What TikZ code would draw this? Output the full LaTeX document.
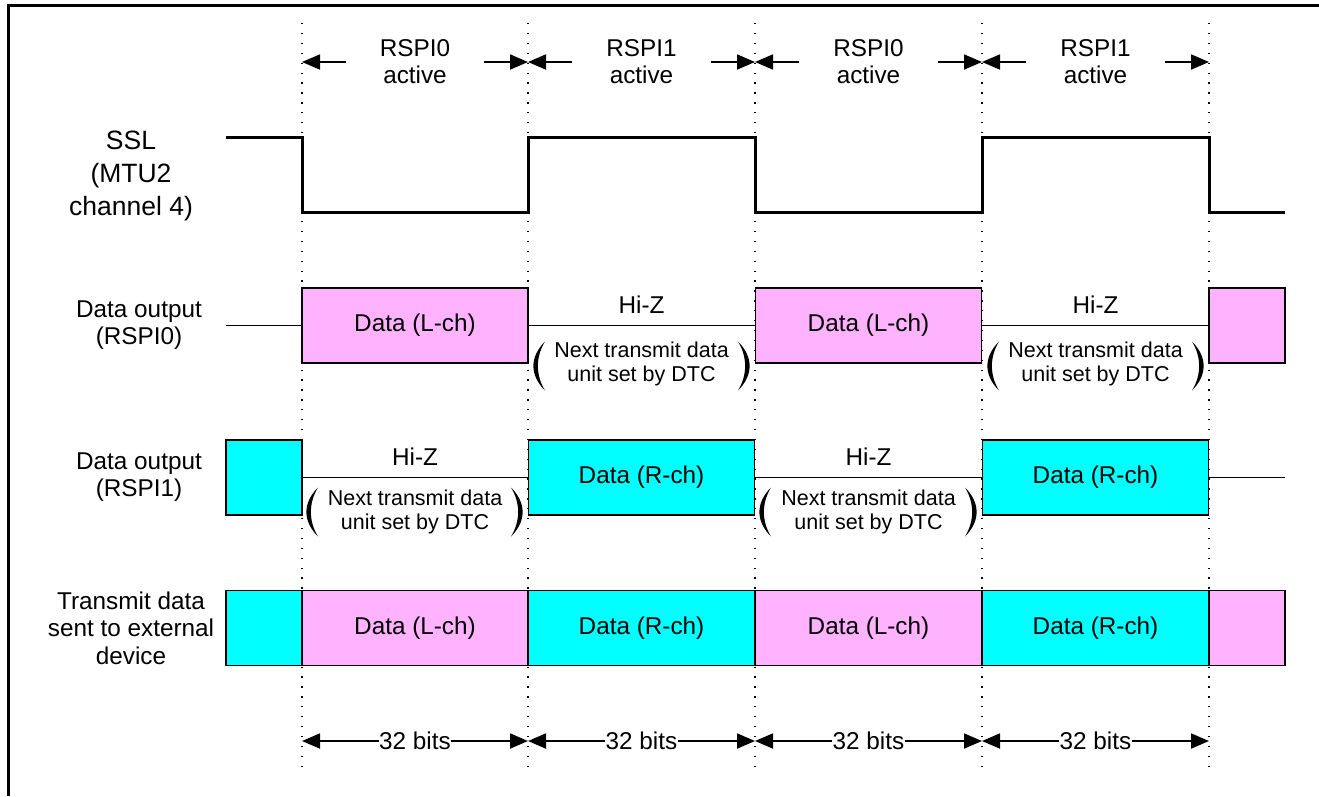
\documentclass[tikz,border=0pt]{standalone}
\usepackage{fontspec}
\setmainfont{Liberation Sans}
\usetikzlibrary{arrows.meta}
\definecolor{pinkd}{RGB}{255,179,255}
\definecolor{cyand}{RGB}{0,255,255}
\tikzset{
  frameline/.style={line width=3pt},
  gridline/.style={line width=1.3pt, dash pattern=on 1.3pt off 8.6pt},
  sig/.style={line width=3pt, line join=miter},
  databox/.style={draw, line width=1.8pt, minimum width=226pt, minimum height=75pt, inner sep=0pt,
    font=\fontsize{24.3}{28}\selectfont},
  boxL/.style={databox, fill=pinkd},
  boxR/.style={databox, fill=cyand},
  stub/.style={databox, minimum width=76pt},
  hiz/.style={line width=1.5pt},
  dimarrow/.style={line width=1.8pt, -{Triangle[length=18pt,width=15pt]}},
  dimboth/.style={line width=1.8pt, {Triangle[length=18pt,width=15pt]}-{Triangle[length=18pt,width=15pt]}},
  txt/.style={font=\fontsize{24.3}{27.5}\selectfont, align=center, inner sep=0pt},
  smalltxt/.style={font=\fontsize{21.5}{23.5}\selectfont, align=center, inner sep=0pt},
  lpar/.pic={\fill (6,-24.5) .. controls (-9.5,-9) and (-9.5,9) .. (6,24.5) .. controls (-3.5,9) and (-3.5,-9) .. (6,-24.5) -- cycle;},
  rpar/.pic={\fill (-6,-24.5) .. controls (9.5,-9) and (9.5,9) .. (-6,24.5) .. controls (3.5,9) and (3.5,-9) .. (-6,-24.5) -- cycle;}
}
\begin{document}
\begin{tikzpicture}[x=1pt,y=-1pt]
\useasboundingbox (0,0) rectangle (1319,796);
% frame
\coordinate (fTL) at (8,5);
\coordinate (fTR) at (1319,5);
\coordinate (fBL) at (8,796);
\draw[frameline] (fTR) -- (fTL) -- (fBL);

% dotted time lines
\foreach \i/\x in {1/302,2/528,3/755,4/982,5/1209}{
  \coordinate (t\i) at (\x,23);
  \coordinate (b\i) at (\x,774);
  \draw[gridline] (t\i) -- (b\i);
}

% top labels
\foreach \i/\xa/\xb/\lab in {1/302/528/RSPI0,2/528/755/RSPI1,3/755/982/RSPI0,4/982/1209/RSPI1}{
  \node[txt] (act\i) at ({(\xa+\xb)/2},61.5) {\lab\\active};
  \coordinate (al\i) at ({\xa+44},62);
  \coordinate (ar\i) at ({\xb-44},62);
  \coordinate (ae\i) at (\xa,62);
  \coordinate (af\i) at (\xb,62);
  \draw[dimarrow] (al\i) -- (ae\i);
  \draw[dimarrow] (ar\i) -- (af\i);
}

% row labels
\node[txt, font=\fontsize{26.5}{33}\selectfont] (lssl) at (131,176) {SSL\\(MTU2\\channel 4)};
\node[txt] (ld0) at (139,325) {Data output\\(RSPI0)};
\node[txt] (ld1) at (139,477) {Data output\\(RSPI1)};
\node[txt] (ltx) at (131,628) {Transmit data\\sent to external\\device};

% SSL waveform
\coordinate (s0) at (226,137);
\draw[sig] (s0) -- (302,137) -- (302,212) -- (528,212) -- (528,137) -- (755,137) -- (755,212)
  -- (982,212) -- (982,137) -- (1209,137) -- (1209,212) -- (1285,212);

% Data output RSPI0
\node[boxL] (d0a) at (415,325.5) {Data (L-ch)};
\node[boxL] (d0b) at (868.5,325.5) {Data (L-ch)};
\node[boxL, stub] (d0c) at (1247,325.5) {};
\coordinate (d0s) at (226,325.5);
\draw[hiz] (d0s) -- (d0a.west);
\draw[hiz] (d0a.east) -- (d0b.west);
\draw[hiz] (d0b.east) -- (d0c.west);
\node[txt] (hz0a) at (641.5,305) {Hi-Z};
\node[txt] (hz0b) at (1095.5,305) {Hi-Z};
\node[smalltxt] (nx0a) at (641.5,364) {Next transmit data\\unit set by DTC};
\node[smalltxt] (nx0b) at (1095.5,364) {Next transmit data\\unit set by DTC};
\pic at (539,366) {lpar};
\pic at (744,366) {rpar};
\pic at (993,366) {lpar};
\pic at (1198,366) {rpar};

% Data output RSPI1
\node[boxR, stub] (d1a) at (264,477.5) {};
\node[boxR] (d1b) at (641.5,477.5) {Data (R-ch)};
\node[boxR] (d1c) at (1095.5,477.5) {Data (R-ch)};
\coordinate (d1e) at (1285,477.5);
\draw[hiz] (d1a.east) -- (d1b.west);
\draw[hiz] (d1b.east) -- (d1c.west);
\draw[hiz] (d1c.east) -- (d1e);
\node[txt] (hz1a) at (415,457) {Hi-Z};
\node[txt] (hz1b) at (868.5,457) {Hi-Z};
\node[smalltxt] (nx1a) at (415,512) {Next transmit data\\unit set by DTC};
\node[smalltxt] (nx1b) at (868.5,512) {Next transmit data\\unit set by DTC};
\pic at (312,512) {lpar};
\pic at (517,512) {rpar};
\pic at (765,512) {lpar};
\pic at (971,512) {rpar};

% Transmit data
\node[boxR, stub] (tx0) at (264,628) {};
\node[boxL] (tx1) at (415,628) {Data (L-ch)};
\node[boxR] (tx2) at (641.5,628) {Data (R-ch)};
\node[boxL] (tx3) at (868.5,628) {Data (L-ch)};
\node[boxR] (tx4) at (1095.5,628) {Data (R-ch)};
\node[boxL, stub] (tx5) at (1247,628) {};

% 32 bits dimensions
\foreach \i/\xa/\xb in {1/302/528,2/528/755,3/755/982,4/982/1209}{
  \coordinate (dl\i) at (\xa,741);
  \coordinate (dr\i) at (\xb,741);
  \draw[dimboth] (dl\i) -- (dr\i);
  \node[txt, fill=white, inner xsep=0.5pt, inner ysep=1pt] (bits\i) at ({(\xa+\xb)/2},741) {32 bits};
}
\end{tikzpicture}
\end{document}
